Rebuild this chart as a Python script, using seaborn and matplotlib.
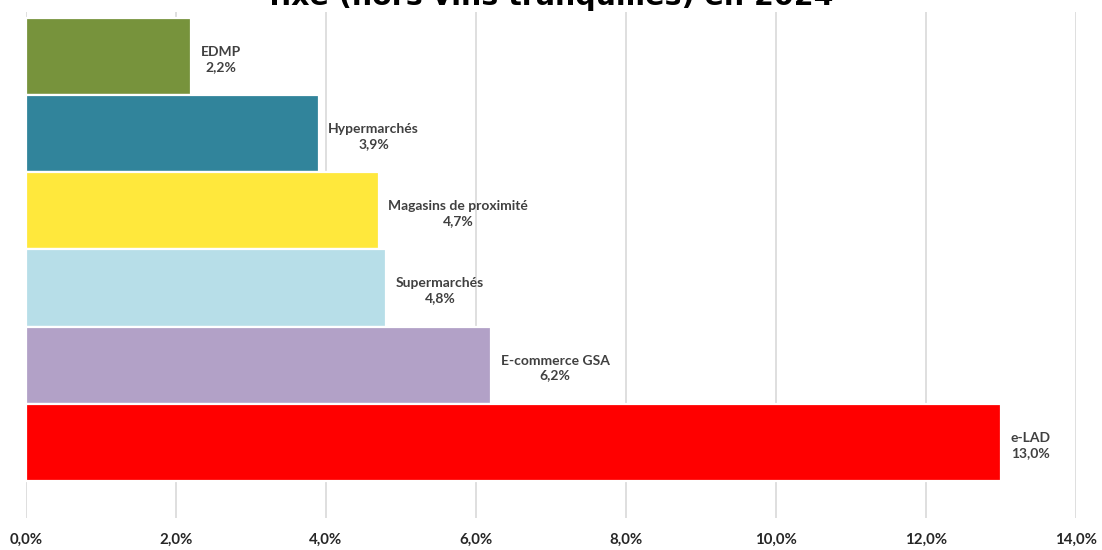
import matplotlib
matplotlib.use("Agg")
import matplotlib.pyplot as plt
import seaborn as sns
import pandas as pd
from matplotlib.ticker import FuncFormatter

# Circuits de distribution et leur part
categories = ["EDMP", "Hypermarchés", "Magasins de proximité",
              "Supermarchés", "E-commerce GSA", "e-LAD"]
values = [2.2, 3.9, 4.7, 4.8, 6.2, 13.0]
colors = ["#77933C", "#31849B", "#FFE83C", "#B7DEE8", "#B2A1C7", "#FF0000"]
tick_values = [0, 2, 4, 6, 8, 10, 12, 14]

title_text = "fixe (hors vins tranquilles) en 2024"

sns.set_theme(style="white")
plt.rcParams["font.family"] = ["Lato", "DejaVu Sans"]

df = pd.DataFrame({"circuit": categories, "part": values})

fig = plt.figure(figsize=(11.02, 5.5), dpi=100)
ax = fig.add_axes([26 / 1102, 1 - 518 / 550, 1050 / 1102, 506 / 550])

sns.barplot(data=df, x="part", y="circuit", hue="circuit", palette=colors,
            saturation=1, orient="h", width=1.0, edgecolor="white",
            linewidth=1.6, legend=False, ax=ax, zorder=2)

ax.set_xlim(0, 14)
ax.set_ylim(5.98, -0.578)
ax.set_xticks(tick_values)
ax.xaxis.set_major_formatter(FuncFormatter(lambda v, _: f"{v:.1f}".replace(".", ",") + "%"))
ax.grid(axis="x", color="#D9D9D9", linewidth=1.2, zorder=0)
ax.set_axisbelow(True)
ax.set_yticks([])
ax.set_xlabel("")
ax.set_ylabel("")
for s in ax.spines.values():
    s.set_visible(False)
ax.tick_params(axis="x", length=0, pad=11, labelsize=10.8, labelcolor="#262626")
for lab in ax.get_xticklabels():
    lab.set_fontweight("bold")

# Étiquettes de données : nom du circuit et part
for i, (cat, val) in enumerate(zip(categories, values)):
    txt = f"{cat}\n{val:.1f}".replace(".", ",") + "%"
    ax.annotate(txt, xy=(val, i), xytext=(7, -2), textcoords="offset points",
                ha="left", va="center", multialignment="center",
                fontsize=10, fontweight="bold", color="#404040",
                linespacing=1.3)

fig.text(0.5, 1 - 5 / 550, title_text, ha="center", va="baseline",
         fontsize=20.5, fontweight="bold", color="black",
         family=["DejaVu Sans"])

fig.savefig("out.png", dpi=100)
